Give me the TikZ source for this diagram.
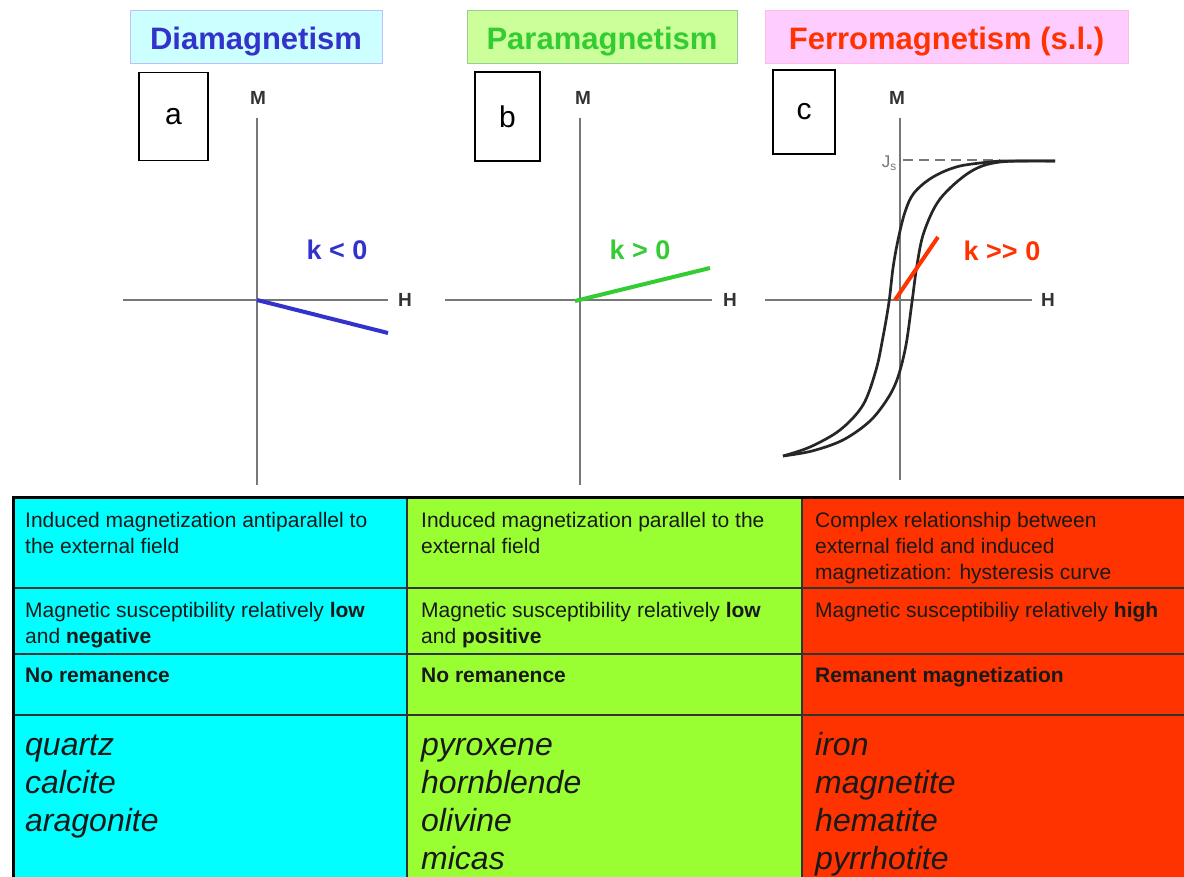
\documentclass[tikz,border=0pt]{standalone}
\usepackage{fontspec}
\setmainfont{Liberation Sans}
\usetikzlibrary{positioning}

\definecolor{diablue}{HTML}{3333CC}
\definecolor{paragreen}{HTML}{33CC33}
\definecolor{ferrored}{HTML}{FF3300}
\definecolor{diafill}{HTML}{CCFFFF}
\definecolor{parafill}{HTML}{CCFF99}
\definecolor{ferrofill}{HTML}{FFCCFF}
\definecolor{cellcyan}{HTML}{00FFFF}
\definecolor{cellgreen}{HTML}{99FF33}
\definecolor{cellred}{HTML}{FF3300}
\definecolor{axisgray}{HTML}{777777}

\begin{document}
\begin{tikzpicture}[
  x=1pt, y=-1pt,
  every node/.style={inner sep=0pt},
  title/.style={draw, line width=1pt, minimum height=53pt,
                text height=25pt, text depth=0pt,
                font=\fontsize{31}{31}\selectfont\bfseries},
  letterbox/.style={draw, line width=1.3pt, font=\fontsize{30}{30}\selectfont},
  axis/.style={axisgray, line width=2pt},
  axlabel/.style={font=\fontsize{19}{19}\selectfont\bfseries, text=black!80},
  klabel/.style={font=\fontsize{27}{27}\selectfont\bfseries},
  kline/.style={line width=4pt},
  loop/.style={black!85, line width=2.7pt},
  cell/.style={anchor=north west, align=left, text=black!90,
               font=\fontsize{21}{26}\selectfont},
  mineral/.style={cell, font=\fontsize{32}{38}\selectfont\itshape},
  grid/.style={line width=1.5pt, black!80},
]
\useasboundingbox (0,0) rectangle (1184,876);

% titles
\node[title, fill=diafill, draw=blue!25, text=diablue, minimum width=252pt]
  (tdia) at (256,36.5) {Diamagnetism};
\node[title, fill=parafill, draw=green!50!black!40, text=paragreen, minimum width=270pt]
  (tpara) at (602,36.5) {Paramagnetism};
\node[title, fill=ferrofill, draw=magenta!25, text=ferrored, minimum width=363pt]
  (tferro) at (946.5,36.5) {Ferromagnetism (s.l.)};

% panel letters
\node[letterbox, minimum width=69pt, minimum height=88pt] (la) at (173.5,116.5) {a};
\node[letterbox, minimum width=65pt, minimum height=89pt] (lb) at (507.5,116.5) {b};
\node[letterbox, minimum width=62pt, minimum height=84pt] (lc) at (804,112) {c};

% panel a: diamagnetism
\draw[axis] (257,118) -- (257,485);
\draw[axis] (123,300) -- (388,300);
\node[axlabel] (ma) at (258,98) {M};
\node[axlabel] (ha) at (405,300) {H};
\draw[kline, diablue] (257,300) -- (388,333);
\node[klabel, text=diablue] (ka) at (337,250) {k < 0};

% panel b: paramagnetism
\draw[axis] (580,118) -- (580,485);
\draw[axis] (445,300) -- (712,300);
\node[axlabel] (mb) at (583,98) {M};
\node[axlabel] (hb) at (730,300) {H};
\draw[kline, paragreen] (575,301) -- (710,268);
\node[klabel, text=paragreen] (kb) at (640,250) {k > 0};

% panel c: ferromagnetism, hysteresis loop
\draw[axis] (900,118) -- (900,480);
\draw[axis] (765,300) -- (1032,300);
\node[axlabel] (mc) at (897,98) {M};
\node[axlabel] (hc) at (1048,300) {H};
\draw[axis, dashed, dash pattern=on 10pt off 6pt] (903,160) -- (1000,160);
\node[anchor=east, text=axisgray, font=\fontsize{17}{17}\selectfont] (js) at (897,163) {J\textsubscript{s}};
\draw[loop] (1055,161) -- (1000,161)
  plot[smooth, tension=0.55] coordinates {(1000,161) (960,166) (933,177) (914,193)
    (905,212) (898,240) (893,268) (889,302) (883,337) (876,370) (863,405)
    (840,430) (810,447) (783,456)};
\draw[loop] plot[smooth, tension=0.55] coordinates {(783,456) (812,451) (843,440)
    (870,421) (888,398) (898,377) (906,345) (912,302) (917,265) (924,232)
    (940,199) (970,172) (1000,162) (1055,161)};
\draw[kline, ferrored] (895,300) -- (938,237);
\node[klabel, text=ferrored] (kc) at (1002,251) {k >{}> 0};

% table
\fill[cellcyan]  (13,497)  rectangle (407,890);
\fill[cellgreen] (407,497) rectangle (802,890);
\fill[cellred]   (802,497) rectangle (1195,890);
\foreach \y in {588,654,715}
  \draw[grid] (13,\y) -- (1195,\y);
\foreach \x in {407,802}
  \draw[grid] (\x,497) -- (\x,890);
\draw[line width=3pt] (13,890) -- (13,497) -- (1195,497);

\node[cell] (dia1) at (25,508.8) {\strut Induced magnetization antiparallel to\\the external field};
\node[cell] (dia2) at (25,598.8) {\strut Magnetic susceptibility relatively \textbf{low}\\and \textbf{negative}};
\node[cell] (dia3) at (25,663.8) {\strut\textbf{No remanence}};
\node[mineral] (dia4) at (25,728.4) {\strut quartz\\calcite\\aragonite};

\node[cell] (para1) at (421,508.8) {\strut Induced magnetization parallel to the\\external field};
\node[cell] (para2) at (421,598.8) {\strut Magnetic susceptibility relatively \textbf{low}\\and \textbf{positive}};
\node[cell] (para3) at (421,663.8) {\strut\textbf{No remanence}};
\node[mineral] (para4) at (421,728.4) {\strut pyroxene\\hornblende\\olivine\\micas};

\node[cell] (ferro1) at (815,508.8) {\strut Complex relationship between\\external field and induced\\magnetization: hysteresis curve};
\node[cell] (ferro2) at (815,598.8) {\strut Magnetic susceptibiliy relatively \textbf{high}};
\node[cell] (ferro3) at (815,663.8) {\strut\textbf{Remanent magnetization}};
\node[mineral] (ferro4) at (815,728.4) {\strut iron\\magnetite\\hematite\\pyrrhotite};
\end{tikzpicture}
\end{document}
